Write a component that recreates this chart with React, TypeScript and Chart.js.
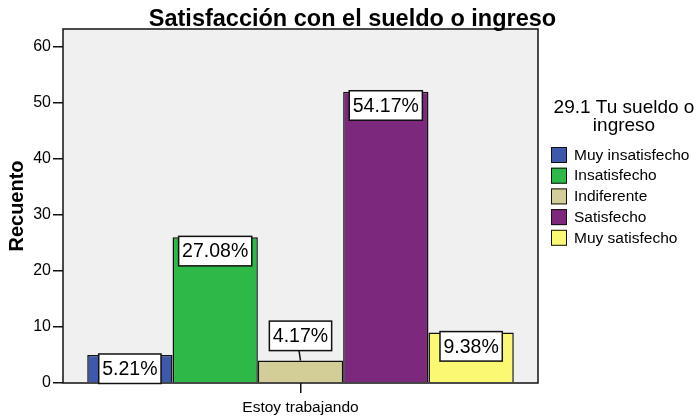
import React, { useEffect, useRef } from "react";
import { Chart, registerables } from "chart.js";

Chart.register(...registerables);

const chartTitle = "Satisfacción con el sueldo o ingreso";
const categories = ["Estoy trabajando"];
const seriesNames = ["Muy insatisfecho", "Insatisfecho", "Indiferente", "Satisfecho", "Muy satisfecho"];
const seriesCounts = [5, 26, 4, 52, 9];
const seriesColors = ["#3E58AC", "#2EB848", "#D3CE97", "#7C287D", "#FBF873"];
const yTicks = [0, 10, 20, 30, 40, 50, 60];
const yAxisMax = 63.2;
const yAxisTitle = "Recuento";
const legendTitle = ["29.1 Tu sueldo o", "ingreso"];

const FONT = 'Arial, "Liberation Sans", Helvetica, sans-serif';

const decorPlugin = {
  id: "decor",
  beforeDraw(chart: any) {
    const { ctx, chartArea: a } = chart;
    ctx.save();
    ctx.fillStyle = "#F0F0F0";
    ctx.fillRect(a.left, a.top, a.right - a.left, a.bottom - a.top);
    ctx.restore();
  },
  afterDatasetsDraw(chart: any) {
    const { ctx, chartArea: a } = chart;
    ctx.save();
    ctx.strokeStyle = "#111";
    ctx.lineWidth = 1.5;
    ctx.strokeRect(a.left, a.top, a.right - a.left, a.bottom - a.top);

    const total = seriesCounts.reduce((s, v) => s + v, 0);
    chart.data.datasets.forEach((ds: any, i: number) => {
      const meta = chart.getDatasetMeta(i);
      meta.data.forEach((bar: any, j: number) => {
        const { x, y, base } = bar.getProps(["x", "y", "base"], true);
        const txt = ((ds.data[j] / total) * 100).toFixed(2) + "%";
        ctx.font = `19.5px ${FONT}`;
        const tw = ctx.measureText(txt).width;
        const bw = tw + 7;
        const bh = 29.5;
        const barH = base - y;
        const inside = barH >= 26;
        const top = inside ? y - 1 : y - 10 - bh;
        const left = x - bw / 2;
        ctx.fillStyle = "#fff";
        ctx.fillRect(left, top, bw, bh);
        ctx.strokeStyle = "#111";
        ctx.lineWidth = 1.5;
        ctx.strokeRect(left, top, bw, bh);
        if (!inside) {
          ctx.beginPath();
          ctx.moveTo(x - 1.5, top + bh);
          ctx.lineTo(x, y);
          ctx.stroke();
        }
        ctx.fillStyle = "#000";
        ctx.textAlign = "center";
        ctx.textBaseline = "middle";
        ctx.fillText(txt, x, top + bh / 2 + 1);
      });
    });
    ctx.restore();
  },
  afterDraw(chart: any) {
    const { ctx, chartArea: a } = chart;
    ctx.save();
    // Title
    ctx.fillStyle = "#000";
    ctx.font = `bold 23.5px ${FONT}`;
    ctx.textAlign = "center";
    ctx.textBaseline = "alphabetic";
    ctx.fillText(chartTitle, 352.5, 26);

    // Legend
    const lx = a.right + 13;
    const cx = a.right + 86;
    ctx.font = `19px ${FONT}`;
    ctx.fillText(legendTitle[0], cx, 113);
    ctx.fillText(legendTitle[1], cx, 131);
    ctx.textAlign = "left";
    ctx.textBaseline = "middle";
    ctx.font = `15.5px ${FONT}`;
    seriesNames.forEach((name, i) => {
      const cy = 155 + i * 20.7;
      ctx.fillStyle = seriesColors[i];
      ctx.fillRect(lx, cy - 8, 16, 16);
      ctx.strokeStyle = "#111";
      ctx.lineWidth = 1;
      ctx.strokeRect(lx + 0.5, cy - 7.5, 15, 15);
      ctx.fillStyle = "#000";
      ctx.fillText(name, lx + 23, cy + 0.5);
    });
    ctx.restore();
  },
};

export default function App() {
  const ref = useRef<HTMLCanvasElement>(null);

  useEffect(() => {
    if (!ref.current) return;
    const chart = new Chart(ref.current, {
      type: "bar",
      data: {
        labels: categories,
        datasets: seriesNames.map((name, i) => ({
          label: name,
          data: [seriesCounts[i]],
          backgroundColor: seriesColors[i],
          borderColor: "#111",
          borderWidth: 1.5,
          categoryPercentage: 0.898,
          barPercentage: 1,
        })),
      },
      options: {
        responsive: false,
        animation: false,
        devicePixelRatio: 1,
        events: [],
        layout: { padding: { top: 29, right: 161, bottom: 0, left: 0 } },
        plugins: {
          legend: { display: false },
          title: { display: false },
          tooltip: { enabled: false },
        },
        scales: {
          x: {
            offset: true,
            grid: {
              offset: false,
              drawOnChartArea: false,
              drawTicks: true,
              tickLength: 10,
              color: "#111",
              lineWidth: 1.5,
            },
            border: { display: false },
            ticks: {
              color: "#000",
              font: { family: FONT, size: 15.5 },
              padding: 5,
              maxRotation: 0,
            },
            afterFit: (s: any) => {
              s.height = 33;
            },
          },
          y: {
            min: 0,
            max: yAxisMax,
            afterBuildTicks: (s: any) => {
              s.ticks = yTicks.map((v) => ({ value: v }));
            },
            grid: {
              drawOnChartArea: false,
              tickLength: 10,
              color: "#111",
              lineWidth: 1.5,
            },
            border: { display: false },
            ticks: {
              color: "#000",
              font: { family: FONT, size: 16 },
              padding: 2,
            },
            title: {
              display: true,
              text: yAxisTitle,
              color: "#000",
              font: { family: FONT, size: 20, weight: "bold" },
              padding: { top: 5, bottom: 0 },
            },
            afterFit: (s: any) => {
              s.width = 63;
            },
          },
        },
      },
      plugins: [decorPlugin],
    } as any);
    return () => chart.destroy();
  }, []);

  return (
    <div style={{ position: "fixed", left: 0, top: 0, width: 699, height: 416, background: "#fff" }}>
      <canvas ref={ref} width={699} height={416} style={{ display: "block", width: 699, height: 416 }} />
    </div>
  );
}
